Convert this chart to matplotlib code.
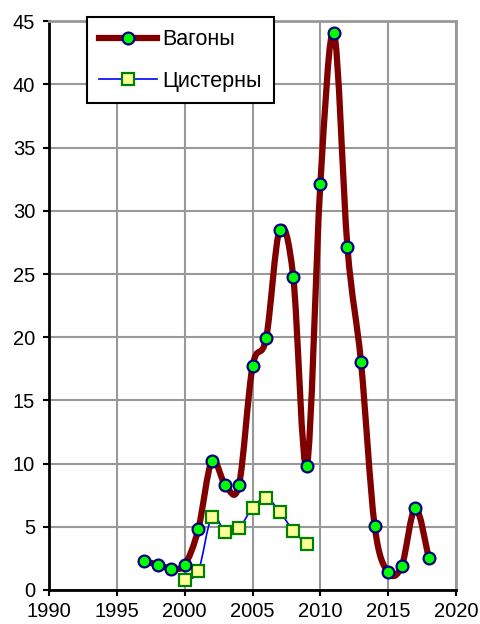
import matplotlib.pyplot as plt
import numpy as np
from matplotlib.path import Path
from matplotlib.patches import PathPatch
from matplotlib.lines import Line2D

plt.rcParams['font.family'] = ['Liberation Sans', 'DejaVu Sans']

# values
years_wagons = [1997, 1998, 1999, 2000, 2001, 2002, 2003, 2004, 2005, 2006, 2007,
                2008, 2009, 2010, 2011, 2012, 2013, 2014, 2015, 2016, 2017, 2018]
wagons = [2.3, 2.0, 1.7, 2.0, 4.8, 10.2, 8.3, 8.3, 17.7, 19.9, 28.5,
          24.8, 9.8, 32.1, 44.1, 27.1, 18.0, 5.1, 1.4, 1.9, 6.5, 2.5]

years_tanks = [2000, 2001, 2002, 2003, 2004, 2005, 2006, 2007, 2008, 2009]
tanks = [0.8, 1.5, 5.8, 4.6, 4.9, 6.5, 7.3, 6.2, 4.7, 3.6]

x_ticks = [1990, 1995, 2000, 2005, 2010, 2015, 2020]
y_ticks = [0, 5, 10, 15, 20, 25, 30, 35, 40, 45]


def smooth_path(xs, ys):
    # Catmull-Rom style bezier, like the spreadsheet "smoothed line"
    pts = np.column_stack([xs, ys]).astype(float)
    verts = [pts[0]]
    codes = [Path.MOVETO]
    n = len(pts)
    for i in range(n - 1):
        p0 = pts[i - 1] if i > 0 else pts[i]
        p1 = pts[i]
        p2 = pts[i + 1]
        p3 = pts[i + 2] if i + 2 < n else pts[i + 1]
        c1 = p1 + (p2 - p0) / 6.0
        c2 = p2 - (p3 - p1) / 6.0
        verts += [c1, c2, p2]
        codes += [Path.CURVE4] * 3
    return Path(verts, codes)


fig = plt.figure(figsize=(4.81, 6.24), dpi=100)
ax = fig.add_axes([0.102, 0.0545, 0.846, 0.9115])

grid_col = '#999999'
ax.grid(True, color=grid_col, linewidth=1.5)
ax.set_axisbelow(True)

ax.add_patch(PathPatch(smooth_path(years_tanks, tanks), fill=False,
                       edgecolor='#0000FF', linewidth=1.2, zorder=3))
ax.plot(years_tanks, tanks, linestyle='none', marker='s', markersize=8.5,
        markerfacecolor='#FFFF99', markeredgecolor='#008000', markeredgewidth=1.6, zorder=4)

ax.add_patch(PathPatch(smooth_path(years_wagons, wagons), fill=False,
                       edgecolor='#800000', linewidth=4.5, capstyle='round',
                       joinstyle='round', zorder=5))
ax.plot(years_wagons, wagons, linestyle='none', marker='o', markersize=8.5,
        markerfacecolor='#00FF00', markeredgecolor='#000080', markeredgewidth=1.6, zorder=6)

ax.set_xlim(1990, 2020)
ax.set_ylim(0, 45)
ax.set_xticks(x_ticks)
ax.set_yticks(y_ticks)
ax.tick_params(labelsize=14.5, length=4, width=1.5, direction='out')
ax.tick_params(axis='y', pad=6)
ax.tick_params(axis='x', pad=5)

for side in ['top', 'right']:
    ax.spines[side].set_color(grid_col)
    ax.spines[side].set_linewidth(2)
for side in ['left', 'bottom']:
    ax.spines[side].set_color('black')
    ax.spines[side].set_linewidth(2)

handles = [
    Line2D([], [], color='#800000', linewidth=4.5, marker='o', markersize=8.5,
           markerfacecolor='#00FF00', markeredgecolor='#000080', markeredgewidth=1.6),
    Line2D([], [], color='#0000FF', linewidth=1.2, marker='s', markersize=8.5,
           markerfacecolor='#FFFF99', markeredgecolor='#008000', markeredgewidth=1.6),
]
leg = ax.legend(handles, ['Вагоны', 'Цистерны'], loc='upper left',
                bbox_to_anchor=(0.093, 1.007), fontsize=15.5, handlelength=2.7,
                labelspacing=0.95, handletextpad=0.25, borderpad=0.55,
                borderaxespad=0, fancybox=False, framealpha=1, edgecolor='black')
leg.get_frame().set_linewidth(1.5)

plt.savefig('out.png', dpi=100)
